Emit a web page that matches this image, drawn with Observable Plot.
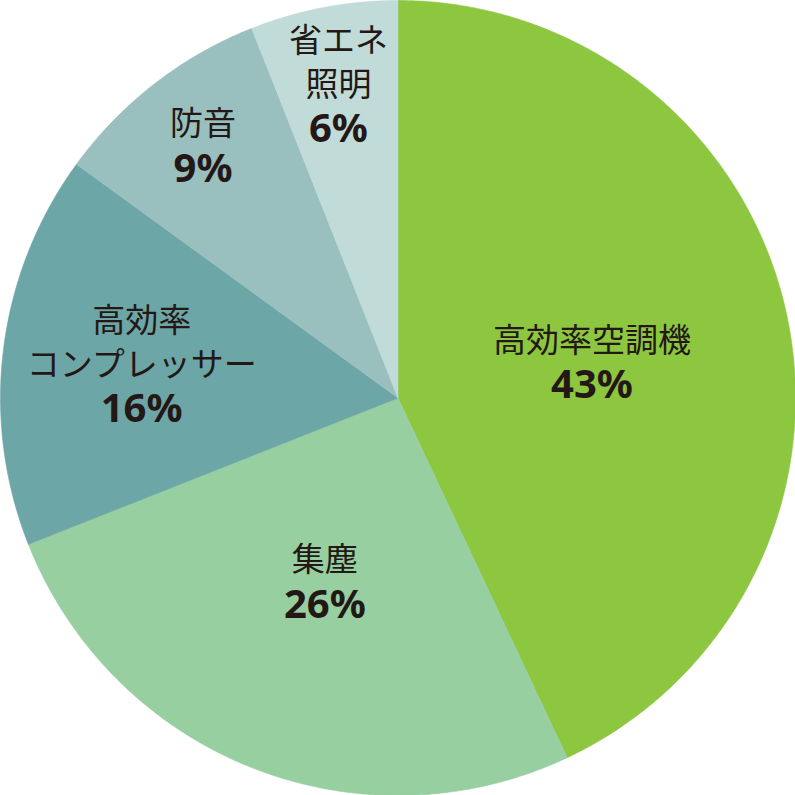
<!DOCTYPE html>
<html>
<head>
<meta charset="utf-8">
<script src="https://cdn.jsdelivr.net/npm/d3@7"></script>
<script src="https://cdn.jsdelivr.net/npm/@observablehq/plot@0.6"></script>
<style>
  html, body { margin: 0; padding: 0; background: #ffffff; }
  #chart svg { display: block; }
</style>
</head>
<body>
<div id="chart"></div>
<script>
const categories = ["高効率空調機", "集塵", "高効率\nコンプレッサー", "防音", "省エネ\n照明"];
const shares = [43, 26, 16, 9, 6];
const colors = ["#8dc63f", "#97cfa1", "#6ca6a7", "#99bfbf", "#c1dbd9"];

const W = 795, H = 795;
const total = d3.sum(shares);
const arcs = d3.pie().sort(null).value(d => d)(shares);

// slice polygons in unit-circle coordinates (angle measured clockwise from 12 o'clock)
const slices = arcs.map((a, i) => {
  const pts = [{x: 0, y: 0}];
  const steps = Math.max(2, Math.ceil((a.endAngle - a.startAngle) / (Math.PI / 360)));
  for (let k = 0; k <= steps; k++) {
    const t = a.startAngle + (a.endAngle - a.startAngle) * k / steps;
    pts.push({x: Math.sin(t), y: Math.cos(t)});
  }
  pts.push({x: 0, y: 0});
  return {points: pts, color: colors[i]};
});

// label lines
const pitch = 44 / (H / 2);
const labelLines = [];
arcs.forEach((a, i) => {
  const share = shares[i] / total;
  const r = share >= 0.2 ? 0.5 : share >= 0.1 ? 0.65 : 0.8;
  const mid = (a.startAngle + a.endAngle) / 2;
  const cx = r * Math.sin(mid), cy = r * Math.cos(mid) - (share >= 0.4 ? 0.022 : 0);
  const lines = categories[i].split("\n").map(t => ({text: t, bold: false}));
  lines.push({text: shares[i] + "%", bold: true});
  const L = lines.length;
  lines.forEach((ln, j) => {
    labelLines.push({x: cx, y: cy - (j - (L - 1) / 2) * pitch, text: ln.text, bold: ln.bold});
  });
});

const plot = Plot.plot({
  width: W,
  height: H,
  margin: 0,
  x: {domain: [-1, 1], axis: null},
  y: {domain: [-1, 1], axis: null},
  style: {background: "#ffffff"},
  marks: [
    ...slices.map(s => Plot.line(s.points, {x: "x", y: "y", fill: s.color, stroke: s.color, strokeWidth: 0.6, curve: "linear"})),
    Plot.text(labelLines.filter(d => !d.bold), {
      x: "x", y: "y", text: "text",
      fontFamily: "'Noto Sans CJK JP', 'Noto Sans', sans-serif",
      fontSize: 33, fill: "#231815", lineAnchor: "middle"
    }),
    Plot.text(labelLines.filter(d => d.bold), {
      x: "x", y: "y", text: "text",
      fontFamily: "'Noto Sans', 'Noto Sans CJK JP', sans-serif",
      fontWeight: "bold", fontSize: 40, fill: "#231815", lineAnchor: "middle"
    })
  ]
});
document.getElementById("chart").appendChild(plot);
</script>
</body>
</html>
